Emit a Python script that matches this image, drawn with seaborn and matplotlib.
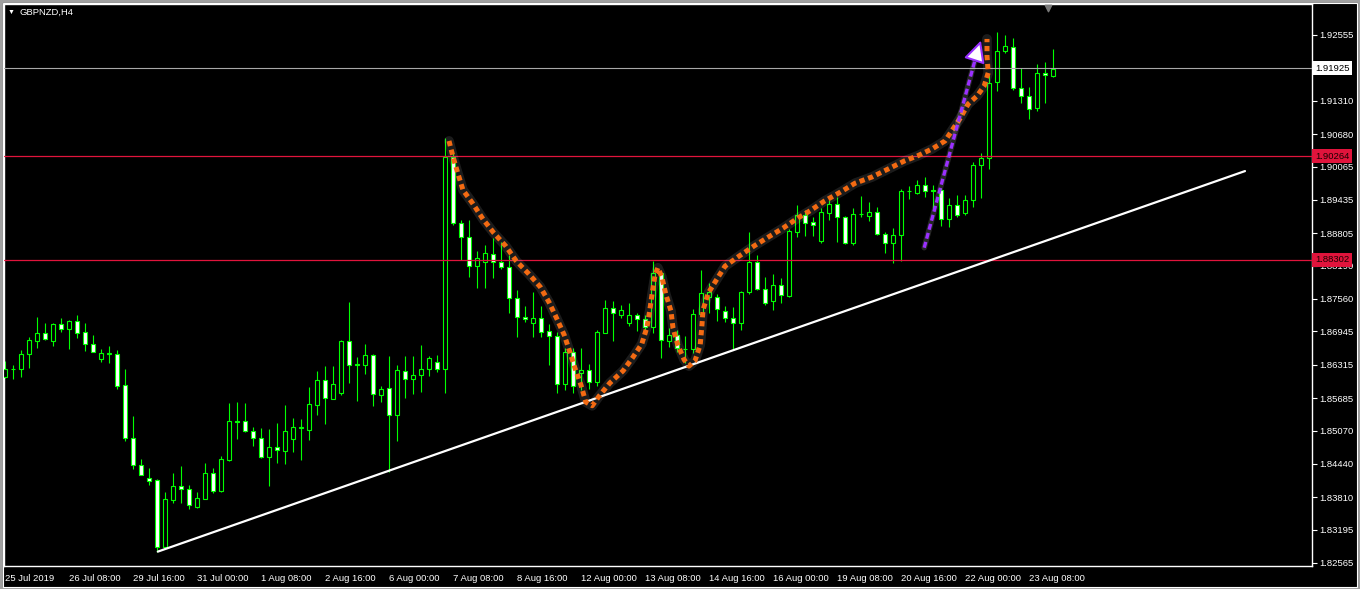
import matplotlib
matplotlib.use("Agg")
import matplotlib.pyplot as plt
from matplotlib.patches import Rectangle
import numpy as np
import seaborn as sns

# GBPNZD H4 candles, 25 Jul 2019 00:00 .. 23 Aug 2019 20:00 (6 bars per trading day)
opens = [1.8608, 1.8624, 1.8624, 1.8652, 1.8677, 1.8692,
         1.8677, 1.8709, 1.8699, 1.8714, 1.8694, 1.8671,
         1.8643, 1.8652, 1.8652, 1.8593, 1.8493, 1.8442,
         1.8417, 1.8414, 1.8287, 1.8376, 1.8402, 1.8397,
         1.8362, 1.8378, 1.8427, 1.8393, 1.8451, 1.8525,
         1.8525, 1.8506, 1.8493, 1.8457, 1.8476, 1.8468,
         1.8491, 1.8512, 1.8508, 1.8555, 1.8603, 1.8567,
         1.8578, 1.8677, 1.8633, 1.8631, 1.8650, 1.8574,
         1.8588, 1.8537, 1.8620, 1.8605, 1.8612, 1.8624,
         1.8637, 1.8624, 1.9025, 1.8900, 1.8873, 1.8818,
         1.8826, 1.8841, 1.8826, 1.8817, 1.8758, 1.8722,
         1.8711, 1.8720, 1.8695, 1.8686, 1.8595, 1.8656,
         1.8616, 1.8622, 1.8599, 1.8692, 1.8739, 1.8726,
         1.8711, 1.8726, 1.8718, 1.8703, 1.8805, 1.8677,
         1.8688, 1.8661, 1.8661, 1.8728, 1.8760, 1.8760,
         1.8733, 1.8720, 1.8711, 1.8769, 1.8826, 1.8775,
         1.8752, 1.8782, 1.8762, 1.8883, 1.8915, 1.8902,
         1.8866, 1.8919, 1.8936, 1.8911, 1.8862, 1.8917,
         1.8913, 1.8921, 1.8879, 1.8862, 1.8877, 1.8960,
         1.8957, 1.8972, 1.8962, 1.8962, 1.8907, 1.8934,
         1.8919, 1.8943, 1.9010, 1.9023, 1.9167, 1.9225,
         1.9233, 1.9155, 1.9140, 1.9117, 1.9184, 1.9178]
highs = [1.8639, 1.8631, 1.8660, 1.8684, 1.8722, 1.8711,
         1.8711, 1.8720, 1.8716, 1.8726, 1.8711, 1.8688,
         1.8661, 1.8667, 1.8660, 1.8624, 1.8535, 1.8453,
         1.8436, 1.8415, 1.8391, 1.8427, 1.8440, 1.8404,
         1.8391, 1.8446, 1.8436, 1.8459, 1.8559, 1.8561,
         1.8559, 1.8514, 1.8512, 1.8510, 1.8521, 1.8555,
         1.8531, 1.8529, 1.8590, 1.8620, 1.8629, 1.8629,
         1.8678, 1.8750, 1.8646, 1.8671, 1.8652, 1.8591,
         1.8648, 1.8631, 1.8648, 1.8648, 1.8669, 1.8648,
         1.8650, 1.9061, 1.9038, 1.8906, 1.8906, 1.8847,
         1.8858, 1.8871, 1.8864, 1.8839, 1.8773, 1.8743,
         1.8769, 1.8743, 1.8709, 1.8694, 1.8663, 1.8663,
         1.8663, 1.8633, 1.8697, 1.8754, 1.8752, 1.8745,
         1.8748, 1.8730, 1.8726, 1.8828, 1.8808, 1.8701,
         1.8697, 1.8686, 1.8737, 1.8811, 1.8786, 1.8765,
         1.8743, 1.8741, 1.8771, 1.8883, 1.8839, 1.8798,
         1.8803, 1.8796, 1.8888, 1.8934, 1.8924, 1.8911,
         1.8928, 1.8943, 1.8949, 1.8913, 1.8928, 1.8951,
         1.8940, 1.8930, 1.8883, 1.8890, 1.8964, 1.8970,
         1.8981, 1.8987, 1.8972, 1.8966, 1.8947, 1.8953,
         1.8953, 1.9015, 1.9032, 1.9180, 1.9261, 1.9255,
         1.9250, 1.9193, 1.9157, 1.9201, 1.9204, 1.9229]
lows = [1.8607, 1.8605, 1.8608, 1.8625, 1.8663, 1.8678,
        1.8667, 1.8694, 1.8661, 1.8682, 1.8658, 1.8656,
        1.8637, 1.8635, 1.8586, 1.8487, 1.8434, 1.8423,
        1.8404, 1.8277, 1.8285, 1.8370, 1.8370, 1.8359,
        1.8361, 1.8377, 1.8389, 1.8391, 1.8450, 1.8491,
        1.8504, 1.8478, 1.8456, 1.8402, 1.8446, 1.8444,
        1.8467, 1.8451, 1.8489, 1.8537, 1.8519, 1.8566,
        1.8574, 1.8597, 1.8563, 1.8614, 1.8554, 1.8561,
        1.8429, 1.8487, 1.8569, 1.8576, 1.8580, 1.8610,
        1.8618, 1.8578, 1.8896, 1.8830, 1.8798, 1.8777,
        1.8777, 1.8796, 1.8813, 1.8730, 1.8684, 1.8712,
        1.8684, 1.8684, 1.8631, 1.8578, 1.8584, 1.8578,
        1.8584, 1.8586, 1.8591, 1.8691, 1.8677, 1.8720,
        1.8705, 1.8695, 1.8697, 1.8692, 1.8644, 1.8665,
        1.8656, 1.8635, 1.8654, 1.8724, 1.8730, 1.8714,
        1.8712, 1.8660, 1.8697, 1.8765, 1.8773, 1.8745,
        1.8735, 1.8748, 1.8760, 1.8873, 1.8875, 1.8875,
        1.8862, 1.8906, 1.8864, 1.8860, 1.8858, 1.8911,
        1.8904, 1.8877, 1.8843, 1.8824, 1.8828, 1.8945,
        1.8955, 1.8949, 1.8924, 1.8894, 1.8892, 1.8911,
        1.8915, 1.8930, 1.8947, 1.9002, 1.9150, 1.9221,
        1.9151, 1.9127, 1.9097, 1.9112, 1.9127, 1.9176]
closes = [1.8624, 1.8623, 1.8652, 1.8678, 1.8692, 1.8680,
          1.8709, 1.8699, 1.8714, 1.8692, 1.8671, 1.8656,
          1.8654, 1.8653, 1.8591, 1.8493, 1.8442, 1.8423,
          1.8412, 1.8287, 1.8378, 1.8402, 1.8397, 1.8366,
          1.8380, 1.8427, 1.8393, 1.8453, 1.8525, 1.8523,
          1.8506, 1.8493, 1.8457, 1.8476, 1.8470, 1.8506,
          1.8514, 1.8513, 1.8557, 1.8603, 1.8569, 1.8595,
          1.8677, 1.8631, 1.8632, 1.8650, 1.8576, 1.8586,
          1.8537, 1.8622, 1.8605, 1.8612, 1.8624, 1.8644,
          1.8624, 1.9025, 1.8900, 1.8873, 1.8818, 1.8834,
          1.8843, 1.8826, 1.8817, 1.8758, 1.8722, 1.8718,
          1.8720, 1.8694, 1.8686, 1.8595, 1.8656, 1.8591,
          1.8622, 1.8599, 1.8694, 1.8739, 1.8730, 1.8735,
          1.8726, 1.8718, 1.8703, 1.8805, 1.8678, 1.8688,
          1.8663, 1.8662, 1.8728, 1.8767, 1.8769, 1.8737,
          1.8720, 1.8711, 1.8769, 1.8826, 1.8775, 1.8748,
          1.8782, 1.8764, 1.8885, 1.8915, 1.8900, 1.8896,
          1.8921, 1.8936, 1.8911, 1.8862, 1.8917, 1.8916,
          1.8921, 1.8879, 1.8862, 1.8877, 1.8960, 1.8961,
          1.8972, 1.8960, 1.8961, 1.8907, 1.8934, 1.8915,
          1.8943, 1.9010, 1.9023, 1.9165, 1.9225, 1.9235,
          1.9155, 1.9140, 1.9116, 1.9184, 1.9180, 1.9192]

# time axis labels every 8 bars
time_labels = ["25 Jul 2019", "26 Jul 08:00", "29 Jul 16:00", "31 Jul 00:00",
               "1 Aug 08:00", "2 Aug 16:00", "6 Aug 00:00", "7 Aug 08:00",
               "8 Aug 16:00", "12 Aug 00:00", "13 Aug 08:00", "14 Aug 16:00",
               "16 Aug 00:00", "19 Aug 08:00", "20 Aug 16:00", "22 Aug 00:00",
               "23 Aug 08:00"]
price_ticks = [1.92555, 1.91310, 1.90680, 1.90065, 1.89435, 1.88805, 1.88190,
               1.87560, 1.86945, 1.86315, 1.85685, 1.85070, 1.84440, 1.83810,
               1.83195, 1.82565]

# horizontal levels
bid_price = 1.91925
red_levels = [1.90264, 1.88302]

# trend line (bar index, price)
trend_x = [19.1, 155.0]
trend_y = [1.8278, 1.8998]

# hand drawn orange dotted path (bar index, price)
path_x = [55.5, 56.0, 56.6, 57.25, 58.5, 59.75, 61.1, 62.6, 63.9, 65.5, 66.9, 68.0,
          69.0, 69.9, 70.6, 71.25, 72.0, 72.6, 73.4, 74.25, 75.6, 77.25, 78.5, 79.6,
          80.25, 80.6, 80.9, 81.25, 81.6, 82.1, 82.6, 83.25, 83.5, 84.1, 84.9, 85.5,
          86.25, 86.9, 87.1, 87.25, 87.9, 89.0, 90.0, 91.75, 93.6, 95.4, 97.25, 99.1,
          100.75, 102.4, 104.4, 106.25, 108.4, 110.4, 112.4, 114.1, 115.9, 117.5,
          119.4, 120.4, 121.5, 122.4, 122.9, 122.75, 122.75]
path_y = [1.9055, 1.9025, 1.8994, 1.8962, 1.8936, 1.8907, 1.8881, 1.8856, 1.8828,
          1.8803, 1.8779, 1.8750, 1.8718, 1.8688, 1.8656, 1.8625, 1.8593, 1.8561,
          1.8554, 1.8572, 1.8597, 1.8620, 1.8646, 1.8671, 1.8703, 1.8735, 1.8767,
          1.8801, 1.8815, 1.8798, 1.8765, 1.8733, 1.8701, 1.8669, 1.8641, 1.8629,
          1.8639, 1.8669, 1.8703, 1.8735, 1.8767, 1.8794, 1.8818, 1.8837, 1.8856,
          1.8873, 1.8890, 1.8909, 1.8924, 1.8941, 1.8958, 1.8975, 1.8987, 1.9002,
          1.9017, 1.9027, 1.9040, 1.9055, 1.9098, 1.9125, 1.9140, 1.9159, 1.9184,
          1.9216, 1.9248]

# purple arrow (bar index, price)
arrow_x = [114.9, 121.5]
arrow_y = [1.8853, 1.9222]
arrow_tip = (122.1, 1.9250)

sns.set_theme(style="dark", rc={"axes.facecolor": "black", "figure.facecolor": "black",
                                "axes.edgecolor": "white", "axes.grid": False})
plt.rcParams['font.family'] = ['Liberation Sans', 'DejaVu Sans']

W, H = 1360, 589
fig = plt.figure(figsize=(W / 100, H / 100), dpi=100)
ax = fig.add_axes([4 / W, (H - 566) / H, 1308 / W, 562 / H])
ax.set_facecolor("black")

idx = np.arange(len(opens))
o = np.array(opens)
c = np.array(closes)
lime = "#00ff00"

# wicks then bodies
ax.vlines(idx, lows, highs, color=lime, lw=0.8, zorder=2)
body_low = np.minimum(o, c)
body_h = np.maximum(np.abs(c - o), 0.00003)
fills = np.where(c < o, "white", "black")
ax.bar(idx, body_h, bottom=body_low, width=0.6, color=fills, edgecolor=lime,
       linewidth=0.8, zorder=3)

# horizontal levels
ax.axhline(bid_price, color="#a8a8a8", lw=0.8, zorder=4)
for lv in red_levels:
    ax.axhline(lv, color="#e0143c", lw=0.9, zorder=4)

# trend line
sns.lineplot(x=trend_x, y=trend_y, ax=ax, color="white", lw=1.6, zorder=5)

# orange dotted path with soft glow
sns.lineplot(x=path_x, y=path_y, ax=ax, sort=False, estimator=None,
             color="#d8d8d8", lw=7, alpha=0.13, zorder=5)
sns.lineplot(x=path_x, y=path_y, ax=ax, sort=False, estimator=None,
             color="#f36a12", lw=3.6, zorder=6)
ax.lines[-1].set_dashes([1.05, 0.75])
ax.lines[-1].set_dash_capstyle("butt")

# purple dashed arrow
sns.lineplot(x=arrow_x, y=arrow_y, ax=ax, sort=False, estimator=None,
             color="white", lw=4, alpha=0.15, zorder=6)
sns.lineplot(x=arrow_x, y=arrow_y, ax=ax, sort=False, estimator=None,
             color="#9a30ff", lw=2.4, zorder=7)
ax.lines[-1].set_dashes([1.8, 1.0])
ax.lines[-1].set_dash_capstyle("butt")
ax.annotate("", xy=arrow_tip, xytext=(arrow_x[-1], arrow_y[-1]),
            arrowprops=dict(arrowstyle="-|>,head_length=1.1,head_width=0.55",
                            fc="white", ec="#9a30ff", lw=1.5), zorder=8)

ax.set_xlim(-0.125, 163.375)
ax.set_ylim(1.82508, 1.93141)

# axes styling
for s in ax.spines.values():
    s.set_color("white")
    s.set_linewidth(1)
ax.yaxis.tick_right()
ax.set_yticks(price_ticks)
ax.set_yticklabels([f"{v:.5f}" for v in price_ticks])
ax.set_xticks(np.arange(0, 8 * len(time_labels), 8))
ax.set_xticklabels(time_labels)
for t in ax.get_xticklabels():
    t.set_horizontalalignment("left")
ax.tick_params(axis="both", colors="white", labelcolor="white", labelsize=6.8,
               length=3.5, width=0.8, direction="out")
ax.tick_params(axis="y", pad=2)
ax.tick_params(axis="x", pad=2)
ax.set_xlabel("")
ax.set_ylabel("")
if ax.get_legend():
    ax.get_legend().remove()

# price boxes on the scale
boxes = [(bid_price, "white", "black")] + [(lv, "#e0143c", "#1a0000") for lv in red_levels]
for val, bg, fg in boxes:
    ax.annotate(f"{val:.5f}", xy=(1, val), xycoords=("axes fraction", "data"),
                xytext=(2.2, 0), textcoords="offset points", ha="left", va="center",
                fontsize=6.8, color=fg, annotation_clip=False, zorder=10,
                bbox=dict(boxstyle="square,pad=0.28", fc=bg, ec="none"))

# shift marker at the top
ax.scatter([130.4], [0.992], marker="v", s=22, color="#7a7a7a",
           transform=ax.get_xaxis_transform(), zorder=9, clip_on=False)

# title
fig.text(8 / W, 1 - 12 / H, "\u25bc", fontsize=5, color="white", va="center")
fig.text(20 / W, 1 - 12 / H, "GBPNZD,H4", fontsize=6.8, color="white", va="center")

# window frame
fig.patches.append(Rectangle((0, 0), 1, 1, transform=fig.transFigure, fill=False,
                             ec="#a0a0a0", lw=3.5))
fig.patches.append(Rectangle((3 / W, 2 / H), 1354 / W, 584 / H, transform=fig.transFigure,
                             fill=False, ec="white", lw=0.8))

fig.savefig("out.png", dpi=100, facecolor="black")
